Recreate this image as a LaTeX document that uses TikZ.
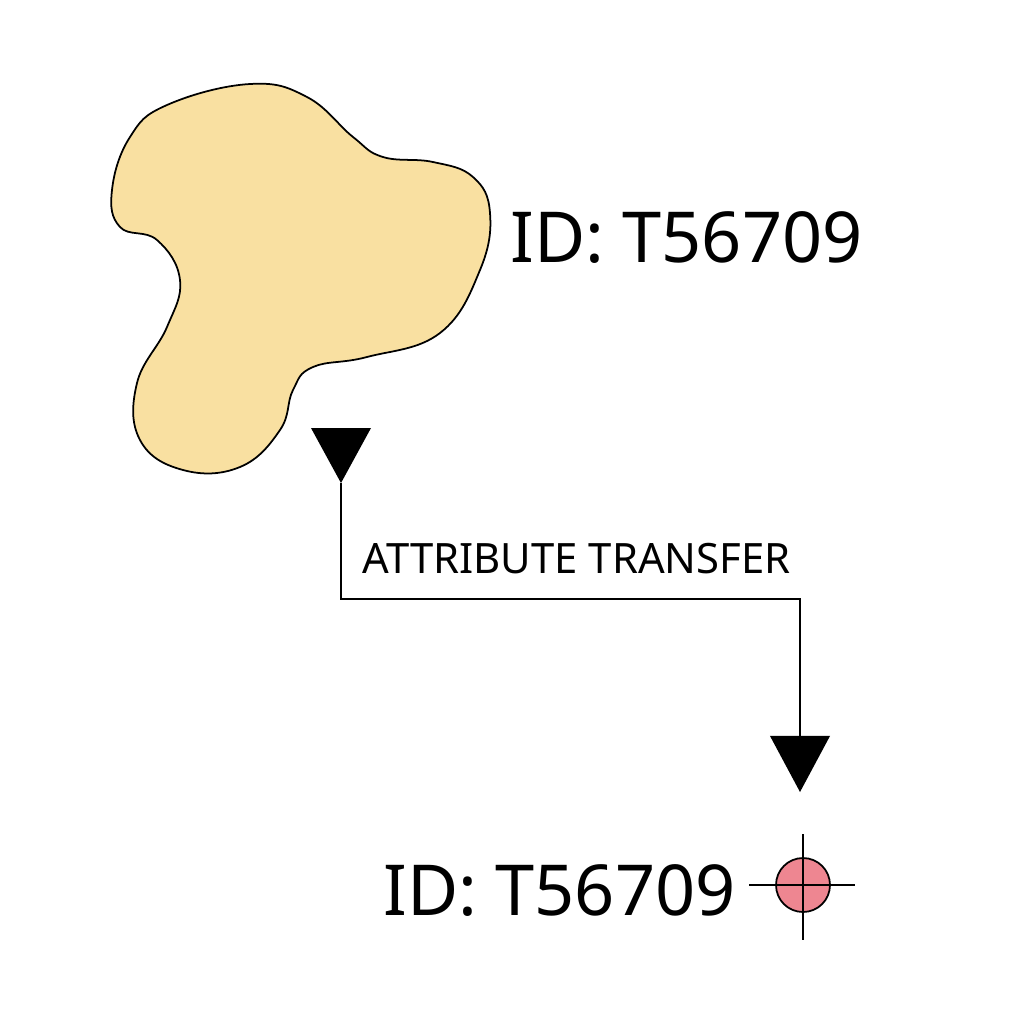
\documentclass[tikz,border=0pt]{standalone}
\usepackage{fontspec}
\setmainfont{Noto Sans}
\usetikzlibrary{arrows.meta}

\definecolor{blobfill}{RGB}{249,224,161}
\definecolor{pointfill}{RGB}{238,134,145}

\tikzset{
  idlabel/.style={font=\fontsize{40}{46}\selectfont, inner sep=0pt, anchor=base west},
  steplabel/.style={font=\fontsize{23.8}{28}\selectfont, inner sep=0pt, anchor=base west},
  flowline/.style={line width=1.1pt},
}

\begin{document}
\begin{tikzpicture}[x=0.02cm,y=-0.02cm]
        \useasboundingbox (0,0) rectangle (1024,1018);

        % polygon feature
        \draw[fill=blobfill, line width=1pt] plot[smooth cycle, tension=0.7] coordinates {
            (167,105) (250,84) (307,97) (353,137) (383,157) (433,162)
            (473,177) (490,213) (480,270) (440,333) (367,357) (313,367)
            (293,390) (280,430) (240,467) (183,470) (140,440) (137,383)
            (167,327) (180,280) (157,240) (120,227) (112,190) (130,137)};

        % labels
        \node[idlabel] (idtop) at (510,262) {ID: T56709};
        \node[idlabel] (idbot) at (383,915) {ID: T56709};
        \node[steplabel] (transfer) at (362,573) {ATTRIBUTE TRANSFER};

        % connector
        \coordinate (src) at (341,483);
        \coordinate (bend) at (800,599);
        \coordinate (dst) at (800,792);
        \fill (311,428) -- (371,428) -- (src) -- cycle;
        \draw[flowline, -{Triangle[width=34pt,length=32pt]}] (src) |- (bend) -- (dst);

        % point feature
        \node[circle, draw, fill=pointfill, line width=1pt, minimum size=54*0.02cm, inner sep=0pt] (pt) at (803,885) {};
        \draw[flowline] (749,885) -- (855,885);
        \draw[flowline] (803,834) -- (803,940);
    \end{tikzpicture}
\end{document}
